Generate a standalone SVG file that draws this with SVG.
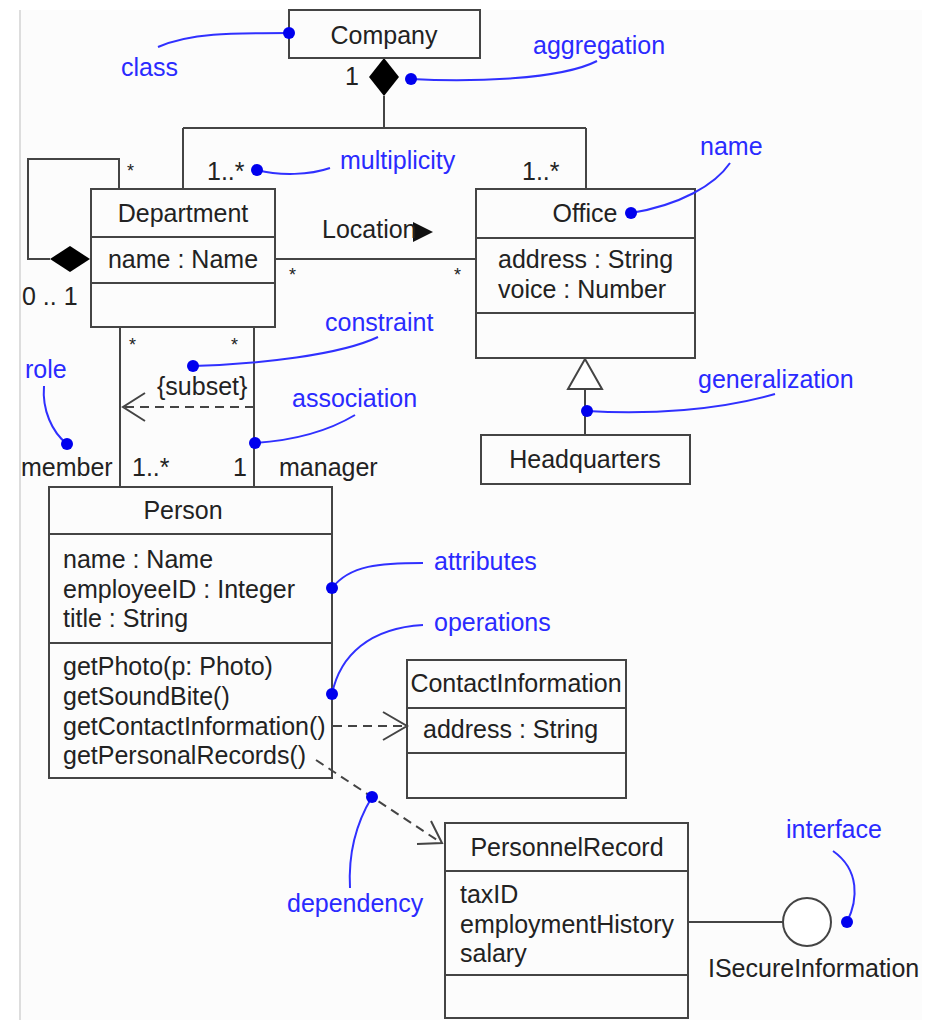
<svg xmlns="http://www.w3.org/2000/svg" width="930" height="1020" viewBox="0 0 930 1020">
<style>
text{font-family:"Liberation Sans",Arial,sans-serif;font-size:25px;fill:#222}
.c{text-anchor:middle}
.b{fill:#2a2aff}
.box{fill:none;stroke:#444;stroke-width:2}
.ln{fill:none;stroke:#444;stroke-width:2}
.dash{fill:none;stroke:#444;stroke-width:2;stroke-dasharray:9,6}
.note{fill:none;stroke:#3030ff;stroke-width:2}
.dot{fill:#0000ee}
.st{font-size:18px}
</style>
<rect x="20" y="10" width="902" height="1010" fill="#fcfcfc"/>
<line x1="20" y1="10" x2="20" y2="1020" stroke="#ddd" stroke-width="2"/>

<g id="connectors">
  <!-- composition Company -> Department / Office -->
  <polygon points="384,58 399,77 384,96 369,77" fill="#000"/>
  <path class="ln" d="M384,96 V128 M183,128 H586 M183,128 V189 M586,128 V189"/>
  <!-- Department self-loop -->
  <path class="ln" d="M119,189 V159 H28 V259 H50"/>
  <polygon points="50,259 70,246 90,259 70,272" fill="#000"/>
  <!-- Location -->
  <line class="ln" x1="275" y1="259" x2="476" y2="259"/>
  <polygon points="413,222 433,232 413,242" fill="#111"/>
  <!-- Department - Person -->
  <line class="ln" x1="120" y1="327" x2="120" y2="487"/>
  <line class="ln" x1="254" y1="327" x2="254" y2="487"/>
  <line class="dash" x1="254" y1="407" x2="124" y2="407"/>
  <path class="ln" d="M145,393 L123,407 L145,421"/>
  <!-- generalization -->
  <polygon points="585,359 602,389 568,389" fill="#fff" stroke="#444" stroke-width="2"/>
  <line class="ln" x1="585" y1="389" x2="585" y2="435"/>
  <!-- dependency ContactInformation -->
  <line class="dash" x1="333" y1="726" x2="405" y2="726"/>
  <path class="ln" d="M383,712 L407,726 L383,740"/>
  <!-- dependency PersonnelRecord -->
  <line class="dash" x1="316" y1="760" x2="440" y2="842"/>
  <path class="ln" d="M417,844 L442,843 L431,821"/>
  <!-- interface -->
  <line class="ln" x1="688" y1="922" x2="783" y2="922"/>
  <circle cx="807" cy="922" r="24" fill="#fff" stroke="#444" stroke-width="2"/>
</g>

<g id="Company">
  <rect class="box" x="289" y="10" width="191" height="48" fill="#fff"/>
  <text class="c" x="384" y="44">Company</text>
</g>

<g id="Department">
  <rect class="box" x="91" y="189" width="184" height="138"/>
  <line class="ln" x1="91" y1="237" x2="275" y2="237"/>
  <line class="ln" x1="91" y1="283" x2="275" y2="283"/>
  <text class="c" x="183" y="222">Department</text>
  <text class="c" x="183" y="268">name : Name</text>
</g>

<g id="Office">
  <rect class="box" x="476" y="189" width="219" height="169"/>
  <line class="ln" x1="476" y1="238" x2="695" y2="238"/>
  <line class="ln" x1="476" y1="313" x2="695" y2="313"/>
  <text class="c" x="585" y="222">Office</text>
  <text x="498" y="268">address : String</text>
  <text x="498" y="298">voice : Number</text>
</g>

<g id="Headquarters">
  <rect class="box" x="481" y="435" width="209" height="49"/>
  <text class="c" x="585" y="468">Headquarters</text>
</g>

<g id="Person">
  <rect class="box" x="49" y="487" width="283" height="291"/>
  <line class="ln" x1="49" y1="534" x2="332" y2="534"/>
  <line class="ln" x1="49" y1="643" x2="332" y2="643"/>
  <text class="c" x="183" y="519">Person</text>
  <text x="63" y="568">name : Name</text>
  <text x="63" y="598">employeeID : Integer</text>
  <text x="63" y="627">title : String</text>
  <text x="63" y="675">getPhoto(p: Photo)</text>
  <text x="63" y="705">getSoundBite()</text>
  <text x="63" y="735">getContactInformation()</text>
  <text x="63" y="764">getPersonalRecords()</text>
</g>

<g id="ContactInformation">
  <rect class="box" x="407" y="660" width="219" height="138"/>
  <line class="ln" x1="407" y1="708" x2="626" y2="708"/>
  <line class="ln" x1="407" y1="753" x2="626" y2="753"/>
  <text class="c" x="516" y="692">ContactInformation</text>
  <text x="423" y="738">address : String</text>
</g>

<g id="PersonnelRecord">
  <rect class="box" x="445" y="823" width="243" height="195"/>
  <line class="ln" x1="445" y1="871" x2="688" y2="871"/>
  <line class="ln" x1="445" y1="975" x2="688" y2="975"/>
  <text class="c" x="567" y="856">PersonnelRecord</text>
  <text x="460" y="903">taxID</text>
  <text x="460" y="933">employmentHistory</text>
  <text x="460" y="962">salary</text>
</g>

<g id="ISecureInformation">
  <text x="708" y="977">ISecureInformation</text>
</g>

<g id="labels">
  <text x="345" y="85">1</text>
  <text class="st" x="127" y="177">*</text>
  <text x="22" y="305">0 .. 1</text>
  <text x="207" y="180">1..*</text>
  <text x="522" y="180">1..*</text>
  <text x="322" y="238">Location</text>
  <text class="st" x="289" y="281">*</text>
  <text class="st" x="454" y="281">*</text>
  <text class="st" x="129" y="351">*</text>
  <text class="st" x="231" y="351">*</text>
  <text x="157" y="395">{subset}</text>
  <text x="21" y="476">member</text>
  <text x="132" y="476">1..*</text>
  <text x="233" y="476">1</text>
  <text x="279" y="476">manager</text>
</g>

<g id="annotations">
  <path class="note" d="M158,47 C190,33 230,33 289,33"/>
  <circle class="dot" cx="289" cy="33" r="6"/>
  <text class="b" x="121" y="76">class</text>

  <path class="note" d="M411,79 C470,82 560,80 597,61"/>
  <circle class="dot" cx="411" cy="79" r="6"/>
  <text class="b" x="533" y="54">aggregation</text>

  <path class="note" d="M257,170 C280,176 310,175 330,168"/>
  <circle class="dot" cx="257" cy="170" r="6"/>
  <text class="b" x="340" y="169">multiplicity</text>

  <path class="note" d="M631,213 C680,205 715,185 730,163"/>
  <circle class="dot" cx="631" cy="213" r="6"/>
  <text class="b" x="700" y="155">name</text>

  <path class="note" d="M193,366 C260,364 340,355 378,337"/>
  <circle class="dot" cx="193" cy="366" r="6"/>
  <text class="b" x="325" y="331">constraint</text>

  <path class="note" d="M255,443 C300,440 330,430 355,415"/>
  <circle class="dot" cx="255" cy="443" r="6"/>
  <text class="b" x="292" y="407">association</text>

  <path class="note" d="M44,386 C42,410 52,432 67,444"/>
  <circle class="dot" cx="67" cy="444" r="6"/>
  <text class="b" x="25" y="378">role</text>

  <path class="note" d="M587,411 C650,415 720,410 775,394"/>
  <circle class="dot" cx="587" cy="411" r="6"/>
  <text class="b" x="698" y="388">generalization</text>

  <path class="note" d="M332,588 C350,565 380,563 423,563"/>
  <circle class="dot" cx="332" cy="588" r="6"/>
  <text class="b" x="434" y="570">attributes</text>

  <path class="note" d="M332,694 C340,655 370,628 423,625"/>
  <circle class="dot" cx="332" cy="694" r="6"/>
  <text class="b" x="434" y="631">operations</text>

  <path class="note" d="M372,797 C358,820 348,850 350,888"/>
  <circle class="dot" cx="372" cy="797" r="6"/>
  <text class="b" x="287" y="912">dependency</text>

  <path class="note" d="M847,922 C858,900 860,870 833,851"/>
  <circle class="dot" cx="847" cy="922" r="6"/>
  <text class="b" x="786" y="838">interface</text>
</g>
</svg>
